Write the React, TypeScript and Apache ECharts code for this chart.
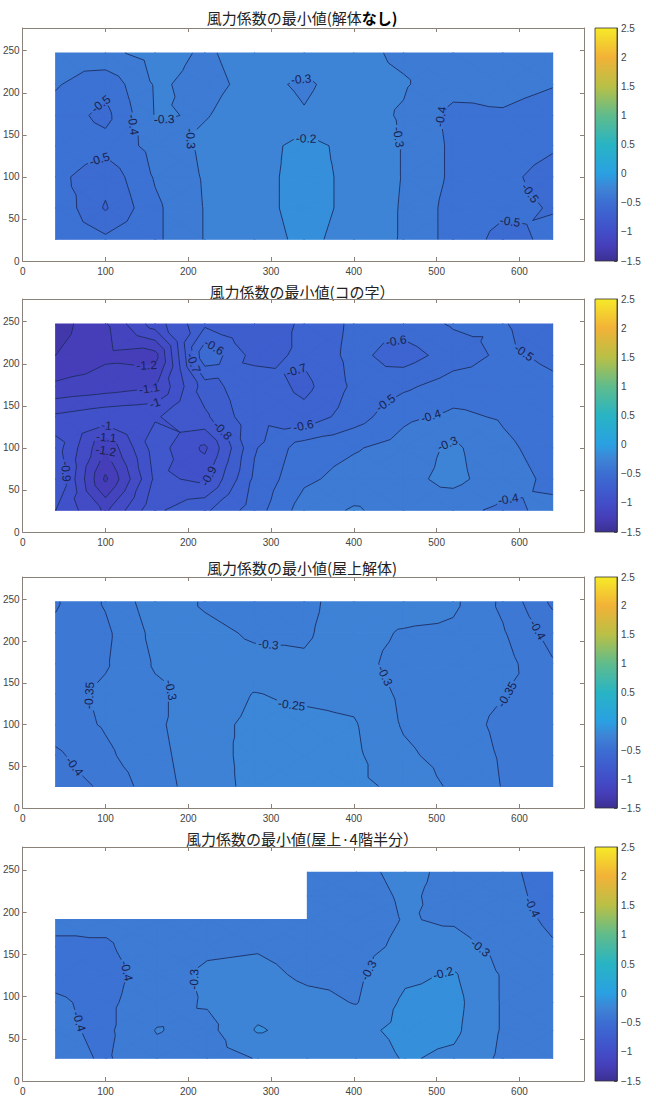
import React, { useEffect, useRef } from "react";
import * as echarts from "echarts";

// ---------------- data ----------------
// measurement grid (x in columns, y in rows from bottom to top)
const xCols = [40, 100, 160, 220, 280, 340, 400, 460, 520, 580, 640];
const yRows = [26, 63, 100, 137, 173, 210, 247];
const xCols4 = [40, 101, 162, 223, 284, 344, 403, 462, 521, 580, 640];
const yRows4 = [27, 60, 93, 126, 159, 191, 219, 247];

// 風力係数の最小値(解体なし)
const cpNone = [
  [-0.44, -0.48, -0.42, -0.295, -0.24, -0.18, -0.23, -0.31, -0.44, -0.53, -0.48],
  [-0.42, -0.61, -0.42, -0.295, -0.23, -0.17, -0.22, -0.31, -0.44, -0.48, -0.505],
  [-0.47, -0.57, -0.39, -0.29, -0.23, -0.17, -0.22, -0.305, -0.42, -0.48, -0.53],
  [-0.43, -0.46, -0.37, -0.28, -0.24, -0.17, -0.23, -0.305, -0.42, -0.46, -0.49],
  [-0.44, -0.53, -0.295, -0.305, -0.26, -0.295, -0.26, -0.31, -0.43, -0.41, -0.44],
  [-0.39, -0.47, -0.29, -0.32, -0.28, -0.31, -0.27, -0.29, -0.36, -0.37, -0.395],
  [-0.37, -0.32, -0.27, -0.31, -0.27, -0.25, -0.27, -0.32, -0.33, -0.35, -0.37],
];
// 風力係数の最小値(コの字)
const cpKo = [
  [-0.9, -1.12, -0.82, -0.72, -0.55, -0.35, -0.29, -0.34, -0.37, -0.42, -0.38],
  [-0.8, -1.32, -0.88, -0.92, -0.58, -0.42, -0.36, -0.33, -0.27, -0.36, -0.42],
  [-0.85, -1.19, -0.85, -1.02, -0.61, -0.45, -0.41, -0.36, -0.28, -0.38, -0.44],
  [-0.98, -0.93, -0.91, -0.82, -0.62, -0.66, -0.55, -0.42, -0.38, -0.41, -0.46],
  [-1.18, -1.15, -1.11, -0.75, -0.62, -0.73, -0.58, -0.52, -0.45, -0.45, -0.48],
  [-1.3, -1.22, -1.24, -0.52, -0.74, -0.68, -0.57, -0.65, -0.55, -0.48, -0.52],
  [-1.35, -1.21, -0.95, -0.72, -0.78, -0.68, -0.58, -0.55, -0.49, -0.49, -0.58],
];
// 風力係数の最小値(屋上解体)
const cpRoof = [
  [-0.43, -0.39, -0.32, -0.275, -0.235, -0.24, -0.24, -0.26, -0.31, -0.352, -0.36],
  [-0.41, -0.36, -0.315, -0.27, -0.235, -0.235, -0.24, -0.29, -0.32, -0.355, -0.365],
  [-0.375, -0.345, -0.31, -0.265, -0.24, -0.235, -0.245, -0.305, -0.33, -0.36, -0.37],
  [-0.37, -0.34, -0.31, -0.28, -0.248, -0.26, -0.265, -0.31, -0.33, -0.348, -0.37],
  [-0.38, -0.355, -0.295, -0.285, -0.29, -0.295, -0.28, -0.32, -0.32, -0.33, -0.395],
  [-0.39, -0.36, -0.285, -0.29, -0.305, -0.305, -0.28, -0.305, -0.31, -0.345, -0.42],
  [-0.405, -0.345, -0.27, -0.305, -0.32, -0.31, -0.28, -0.27, -0.29, -0.36, -0.46],
];
// 風力係数の最小値(屋上・4階半分) — null where there is no roof surface
const cpRoof4 = [
  [-0.37, -0.41, -0.33, -0.34, -0.295, -0.25, -0.27, -0.19, -0.22, -0.32, -0.34],
  [-0.38, -0.42, -0.295, -0.33, -0.19, -0.24, -0.23, -0.17, -0.18, -0.31, -0.35],
  [-0.39, -0.42, -0.34, -0.29, -0.24, -0.27, -0.305, -0.18, -0.17, -0.31, -0.36],
  [-0.42, -0.43, -0.36, -0.28, -0.27, -0.32, -0.32, -0.22, -0.19, -0.31, -0.37],
  [-0.42, -0.41, -0.35, -0.32, -0.31, -0.34, -0.33, -0.28, -0.27, -0.33, -0.39],
  [-0.37, -0.38, -0.36, -0.33, -0.32, -0.35, -0.34, -0.295, -0.31, -0.35, -0.42],
  [null, null, null, null, null, -0.34, -0.33, -0.29, -0.32, -0.36, -0.44],
  [null, null, null, null, null, -0.33, -0.32, -0.28, -0.32, -0.37, -0.45],
];

const titleMain = "風力係数の最小値";
const titleSub = ["(解体", "(コの字）", "(屋上解体)", "(屋上·4階半分）"];
const titleBold = ["なし)", "", "", ""];
const levelSteps = [0.1, 0.1, 0.05, 0.1];

const xMin = 0, xMax = 678, xStep = 100, xLabelMax = 600;
const yMin = 0, yMax = 277, yStep = 50, yLabelMax = 250;
const cMin = -1.5, cMax = 2.5, cStep = 0.5;

// colour map (parula as it appears in the picture)
const cmapStops: number[][] = [
  [-1.5, 60, 48, 146],
  [-1.25, 70, 62, 185],
  [-1.0, 66, 78, 200],
  [-0.75, 62, 94, 206],
  [-0.5, 60, 110, 210],
  [-0.25, 62, 132, 214],
  [0.0, 42, 160, 226],
  [0.5, 40, 180, 196],
  [1.0, 95, 188, 140],
  [1.5, 185, 192, 70],
  [2.0, 242, 178, 55],
  [2.5, 246, 234, 40],
];

// ---------------- layout / style ----------------
const PANEL_TOPS = [28, 299, 577, 847];
const PANEL_HEIGHTS = [233, 233, 231, 234];
const TITLE_Y = [17, 291, 567, 838];
const GRID_LEFT = 20;
const GRID_WIDTH = 564;
const CB_LEFT = 595;
const CB_WIDTH = 22;
const FRAME = "#8a8178";
const LINE = "#1e2b60";
const LABEL = "#1a2250";
const AXIS_TEXT = "#444";
const LATIN = '"Liberation Sans", Arial, sans-serif';
const CJK = '"Noto Sans CJK JP", "Noto Sans CJK SC", sans-serif';

function rgbOf(s: number[]) {
  return `rgb(${Math.round(s[1])},${Math.round(s[2])},${Math.round(s[3])})`;
}
function cmap(v: number): string {
  const s = cmapStops;
  if (v <= s[0][0]) return rgbOf(s[0]);
  for (let k = 0; k < s.length - 1; k++) {
    if (v <= s[k + 1][0]) {
      const t = (v - s[k][0]) / (s[k + 1][0] - s[k][0]);
      return rgbOf([v, s[k][1] + t * (s[k + 1][1] - s[k][1]), s[k][2] + t * (s[k + 1][2] - s[k][2]), s[k][3] + t * (s[k + 1][3] - s[k][3])]);
    }
  }
  return rgbOf(s[s.length - 1]);
}

// ---------------- contour geometry (data space) ----------------
type P3 = number[];

function clipPoly(poly: P3[], L: number, keepAbove: boolean): P3[] {
  const out: P3[] = [];
  const n = poly.length;
  for (let k = 0; k < n; k++) {
    const p = poly[k];
    const q = poly[(k + 1) % n];
    const pin = keepAbove ? p[2] >= L : p[2] <= L;
    const qin = keepAbove ? q[2] >= L : q[2] <= L;
    if (pin) out.push(p);
    if (pin !== qin) {
      const t = (L - p[2]) / (q[2] - p[2]);
      out.push([p[0] + t * (q[0] - p[0]), p[1] + t * (q[1] - p[1]), L]);
    }
  }
  return out;
}

function crossPt(a: P3, b: P3, L: number): number[] {
  let p = a, q = b;
  if (p[0] > q[0] || (p[0] === q[0] && p[1] > q[1])) { p = b; q = a; }
  const t = (L - p[2]) / (q[2] - p[2]);
  return [p[0] + t * (q[0] - p[0]), p[1] + t * (q[1] - p[1])];
}

const keyOf = (p: number[]) => p[0].toFixed(4) + "," + p[1].toFixed(4);

function chainSegments(segs: number[][][]): number[][][] {
  const map = new Map<string, number[]>();
  segs.forEach((s, i) => {
    for (const p of s) {
      const k = keyOf(p);
      if (!map.has(k)) map.set(k, []);
      map.get(k)!.push(i);
    }
  });
  const used = new Array(segs.length).fill(false);
  const lines: number[][][] = [];
  for (let i = 0; i < segs.length; i++) {
    if (used[i]) continue;
    used[i] = true;
    const line = [segs[i][0], segs[i][1]];
    for (let dir = 0; dir < 2; dir++) {
      let go = true;
      while (go) {
        go = false;
        const end = dir === 0 ? line[line.length - 1] : line[0];
        const ek = keyOf(end);
        const cands = map.get(ek) || [];
        for (const j of cands) {
          if (used[j]) continue;
          used[j] = true;
          const s = segs[j];
          const nxt = keyOf(s[0]) === ek ? s[1] : s[0];
          if (dir === 0) line.push(nxt); else line.unshift(nxt);
          go = true;
          break;
        }
      }
    }
    lines.push(line);
  }
  return lines;
}

function buildPanel(xs: number[], ys: number[], z: (number | null)[][], step: number) {
  const tris: P3[][] = [];
  let vmin = Infinity, vmax = -Infinity;
  for (let j = 0; j < ys.length - 1; j++) {
    for (let i = 0; i < xs.length - 1; i++) {
      const a = z[j][i], b = z[j][i + 1], c = z[j + 1][i + 1], d = z[j + 1][i];
      if (a == null || b == null || c == null || d == null) continue;
      const p00 = [xs[i], ys[j], a];
      const p10 = [xs[i + 1], ys[j], b];
      const p11 = [xs[i + 1], ys[j + 1], c];
      const p01 = [xs[i], ys[j + 1], d];
      const pc = [(xs[i] + xs[i + 1]) / 2, (ys[j] + ys[j + 1]) / 2, (a + b + c + d) / 4];
      tris.push([p00, p10, pc], [p10, p11, pc], [p11, p01, pc], [p01, p00, pc]);
      vmin = Math.min(vmin, a, b, c, d);
      vmax = Math.max(vmax, a, b, c, d);
    }
  }
  const levels: number[] = [];
  for (let k = Math.ceil(vmin / step - 1e-9); k * step <= vmax + 1e-9; k++) {
    levels.push(Math.round(k * step * 1000) / 1000);
  }
  const edges = [-Infinity, ...levels, Infinity];
  const fills: { pts: number[][]; color: string }[] = [];
  for (const tri of tris) {
    const tmin = Math.min(tri[0][2], tri[1][2], tri[2][2]);
    const tmax = Math.max(tri[0][2], tri[1][2], tri[2][2]);
    for (let k = 0; k < edges.length - 1; k++) {
      const lo = edges[k], hi = edges[k + 1];
      if (hi < tmin || lo > tmax) continue;
      let poly = tri.slice();
      if (isFinite(lo)) poly = clipPoly(poly, lo, true);
      if (poly.length >= 3 && isFinite(hi)) poly = clipPoly(poly, hi, false);
      if (poly.length < 3) continue;
      const mid = !isFinite(lo) ? hi - step / 2 : !isFinite(hi) ? lo + step / 2 : (lo + hi) / 2;
      fills.push({ pts: poly.map((p) => [p[0], p[1]]), color: cmap(mid) });
    }
  }
  const lines: { level: number; pts: number[][] }[] = [];
  for (const L of levels) {
    const segs: number[][][] = [];
    for (const tri of tris) {
      const pts: number[][] = [];
      for (let e = 0; e < 3; e++) {
        const p = tri[e], q = tri[(e + 1) % 3];
        if ((p[2] >= L) !== (q[2] >= L)) pts.push(crossPt(p, q, L));
      }
      if (pts.length === 2 && keyOf(pts[0]) !== keyOf(pts[1])) segs.push(pts);
    }
    for (const ln of chainSegments(segs)) lines.push({ level: L, pts: ln });
  }
  return { fills, lines };
}

const panels = [
  { xs: xCols, ys: yRows, z: cpNone },
  { xs: xCols, ys: yRows, z: cpKo },
  { xs: xCols, ys: yRows, z: cpRoof },
  { xs: xCols4, ys: yRows4, z: cpRoof4 },
];
const geos = panels.map((p, k) => buildPanel(p.xs, p.ys, p.z, levelSteps[k]));

// ---------------- pixel helpers ----------------
function pointAt(pts: number[][], cum: number[], s: number): number[] {
  for (let k = 1; k < pts.length; k++) {
    if (s <= cum[k] || k === pts.length - 1) {
      const seg = cum[k] - cum[k - 1];
      const t = seg > 0 ? Math.min(1, Math.max(0, (s - cum[k - 1]) / seg)) : 0;
      return [pts[k - 1][0] + t * (pts[k][0] - pts[k - 1][0]), pts[k - 1][1] + t * (pts[k][1] - pts[k - 1][1])];
    }
  }
  return pts[0];
}
function subPath(pts: number[][], cum: number[], a: number, b: number) {
  const out = [pointAt(pts, cum, a)];
  for (let k = 0; k < pts.length; k++) if (cum[k] > a && cum[k] < b) out.push(pts[k]);
  out.push(pointAt(pts, cum, b));
  return out;
}
const fmtLevel = (L: number) => String(Number(L.toFixed(3)));
const LABEL_SIZE = 12;
function textWidth(t: string) {
  let w = 0;
  for (const ch of t) w += ch === "-" ? 0.333 : ch === "." ? 0.278 : 0.556;
  return w * LABEL_SIZE;
}

function renderContour(geo: any) {
  return (params: any, api: any) => {
    const children: any[] = [];
    const texts: any[] = [];
    for (const f of geo.fills) {
      children.push({
        type: "polygon",
        silent: true,
        shape: { points: f.pts.map((p: number[]) => api.coord(p)) },
        style: { fill: f.color, stroke: f.color, lineWidth: 1.3, lineJoin: "round" },
      });
    }
    for (const ln of geo.lines) {
      const pts = ln.pts.map((p: number[]) => api.coord(p));
      const cum = [0];
      for (let k = 1; k < pts.length; k++) {
        cum.push(cum[k - 1] + Math.hypot(pts[k][0] - pts[k - 1][0], pts[k][1] - pts[k - 1][1]));
      }
      const total = cum[cum.length - 1];
      const text = fmtLevel(ln.level);
      const tw = textWidth(text);
      const gaps: number[][] = [];
      if (total > tw + 22) {
        const n = Math.max(1, Math.floor(total / 220));
        for (let k = 0; k < n; k++) {
          const s = (total * (k + 0.5)) / n;
          const p = pointAt(pts, cum, s);
          const pa = pointAt(pts, cum, Math.max(0, s - 7));
          const pb = pointAt(pts, cum, Math.min(total, s + 7));
          let r = -Math.atan2(pb[1] - pa[1], pb[0] - pa[0]);
          if (r > Math.PI / 2) r -= Math.PI;
          if (r < -Math.PI / 2) r += Math.PI;
          texts.push({
            type: "text",
            silent: true,
            x: p[0],
            y: p[1],
            rotation: r,
            style: { text, fill: LABEL, font: `${LABEL_SIZE}px ${LATIN}`, align: "center", verticalAlign: "middle" },
          });
          gaps.push([s - tw / 2 - 2, s + tw / 2 + 2]);
        }
      }
      let start = 0;
      const pieces: number[][] = [];
      for (const g of gaps) { pieces.push([start, g[0]]); start = g[1]; }
      pieces.push([start, total]);
      for (const pc of pieces) {
        if (pc[1] - pc[0] < 0.5) continue;
        children.push({
          type: "polyline",
          silent: true,
          shape: { points: subPath(pts, cum, pc[0], pc[1]) },
          style: { stroke: LINE, lineWidth: 0.9, fill: null },
        });
      }
    }
    return { type: "group", children: children.concat(texts) };
  };
}

const cbGradientStops = cmapStops.map((s) => ({ offset: (s[0] - cMin) / (cMax - cMin), color: rgbOf(s) }));

function renderColorbar(params: any, api: any) {
  const p0 = api.coord([0, cMin]);
  const p1 = api.coord([1, cMax]);
  return {
    type: "rect",
    silent: true,
    shape: { x: p0[0], y: p1[1], width: p1[0] - p0[0], height: p0[1] - p1[1] },
    style: { fill: new echarts.graphic.LinearGradient(0, 1, 0, 0, cbGradientStops), stroke: "#333", lineWidth: 0.8 },
  };
}

function buildOption() {
  const grid: any[] = [];
  const xAxis: any[] = [];
  const yAxis: any[] = [];
  const series: any[] = [];
  const graphic: any[] = [];
  const frameLine = { show: true, onZero: false, lineStyle: { color: FRAME, width: 1 } };
  const tick = { show: true, inside: true, length: 4, lineStyle: { color: FRAME, width: 1 } };
  for (let k = 0; k < 4; k++) {
    const g = grid.length;
    grid.push({ left: GRID_LEFT, top: PANEL_TOPS[k], width: GRID_WIDTH, height: PANEL_HEIGHTS[k] });
    const gc = grid.length;
    grid.push({ left: CB_LEFT, top: PANEL_TOPS[k], width: CB_WIDTH, height: PANEL_HEIGHTS[k] });

    const xi = xAxis.length;
    xAxis.push({
      type: "value", gridIndex: g, min: xMin, max: xMax, interval: xStep, position: "bottom",
      axisLine: frameLine, axisTick: tick, splitLine: { show: false },
      axisLabel: {
        color: AXIS_TEXT, fontSize: 10, fontFamily: LATIN, margin: 5,
        formatter: (v: number) => (v % xStep === 0 && v <= xLabelMax ? String(v) : ""),
      },
    });
    xAxis.push({
      type: "value", gridIndex: g, min: xMin, max: xMax, interval: xStep, position: "top",
      axisLine: frameLine, axisTick: tick, splitLine: { show: false }, axisLabel: { show: false },
    });
    const yi = yAxis.length;
    yAxis.push({
      type: "value", gridIndex: g, min: yMin, max: yMax, interval: yStep, position: "left",
      axisLine: frameLine, axisTick: tick, splitLine: { show: false },
      axisLabel: {
        color: AXIS_TEXT, fontSize: 10, fontFamily: LATIN, margin: 3,
        formatter: (v: number) => (v % yStep === 0 && v <= yLabelMax ? String(v) : ""),
      },
    });
    yAxis.push({
      type: "value", gridIndex: g, min: yMin, max: yMax, interval: yStep, position: "right",
      axisLine: frameLine, axisTick: tick, splitLine: { show: false }, axisLabel: { show: false },
    });
    const cxi = xAxis.length;
    xAxis.push({ type: "value", gridIndex: gc, min: 0, max: 1, show: false });
    const cyi = yAxis.length;
    yAxis.push({
      type: "value", gridIndex: gc, min: cMin, max: cMax, interval: cStep, position: "right",
      axisLine: { show: true, onZero: false, lineStyle: { color: "#333", width: 0.8 } },
      axisTick: { show: true, inside: true, length: 3, lineStyle: { color: "#333", width: 0.8 } },
      splitLine: { show: false },
      axisLabel: {
        color: AXIS_TEXT, fontSize: 10, fontFamily: LATIN, margin: 4,
        formatter: (v: number) => (v < 0 ? "\u2212" + String(Math.abs(v)) : String(v)),
      },
    });

    const p = panels[k];
    series.push({
      type: "custom",
      xAxisIndex: xi,
      yAxisIndex: yi,
      coordinateSystem: "cartesian2d",
      data: [[p.xs[0], p.ys[0]]],
      encode: { x: 0, y: 1 },
      clip: false,
      silent: true,
      renderItem: renderContour(geos[k]),
    });
    series.push({
      type: "custom",
      xAxisIndex: cxi,
      yAxisIndex: cyi,
      coordinateSystem: "cartesian2d",
      data: [[0, cMin]],
      encode: { x: 0, y: 1 },
      clip: false,
      silent: true,
      renderItem: renderColorbar,
    });

    graphic.push({
      type: "text",
      x: GRID_LEFT + GRID_WIDTH / 2,
      y: TITLE_Y[k],
      silent: true,
      style: {
        text: `{a|${titleMain}${titleSub[k]}}` + (titleBold[k] ? `{b|${titleBold[k]}}` : ""),
        align: "center",
        verticalAlign: "middle",
        rich: {
          a: { fontSize: 15, fontFamily: CJK, fontWeight: "normal", fill: "#222" },
          b: { fontSize: 15, fontFamily: CJK, fontWeight: "bold", fill: "#000" },
        },
      },
    });
  }
  return { animation: false, grid, xAxis, yAxis, series, graphic };
}

export default function App() {
  const ref = useRef<HTMLDivElement>(null);
  useEffect(() => {
    if (!ref.current) return;
    const chart = echarts.init(ref.current, null, { renderer: "svg" });
    chart.setOption(buildOption() as any);
    return () => chart.dispose();
  }, []);
  return (
    <div
      ref={ref}
      style={{ position: "absolute", left: 0, top: 0, width: 656, height: 1097, background: "#fff" }}
    />
  );
}
